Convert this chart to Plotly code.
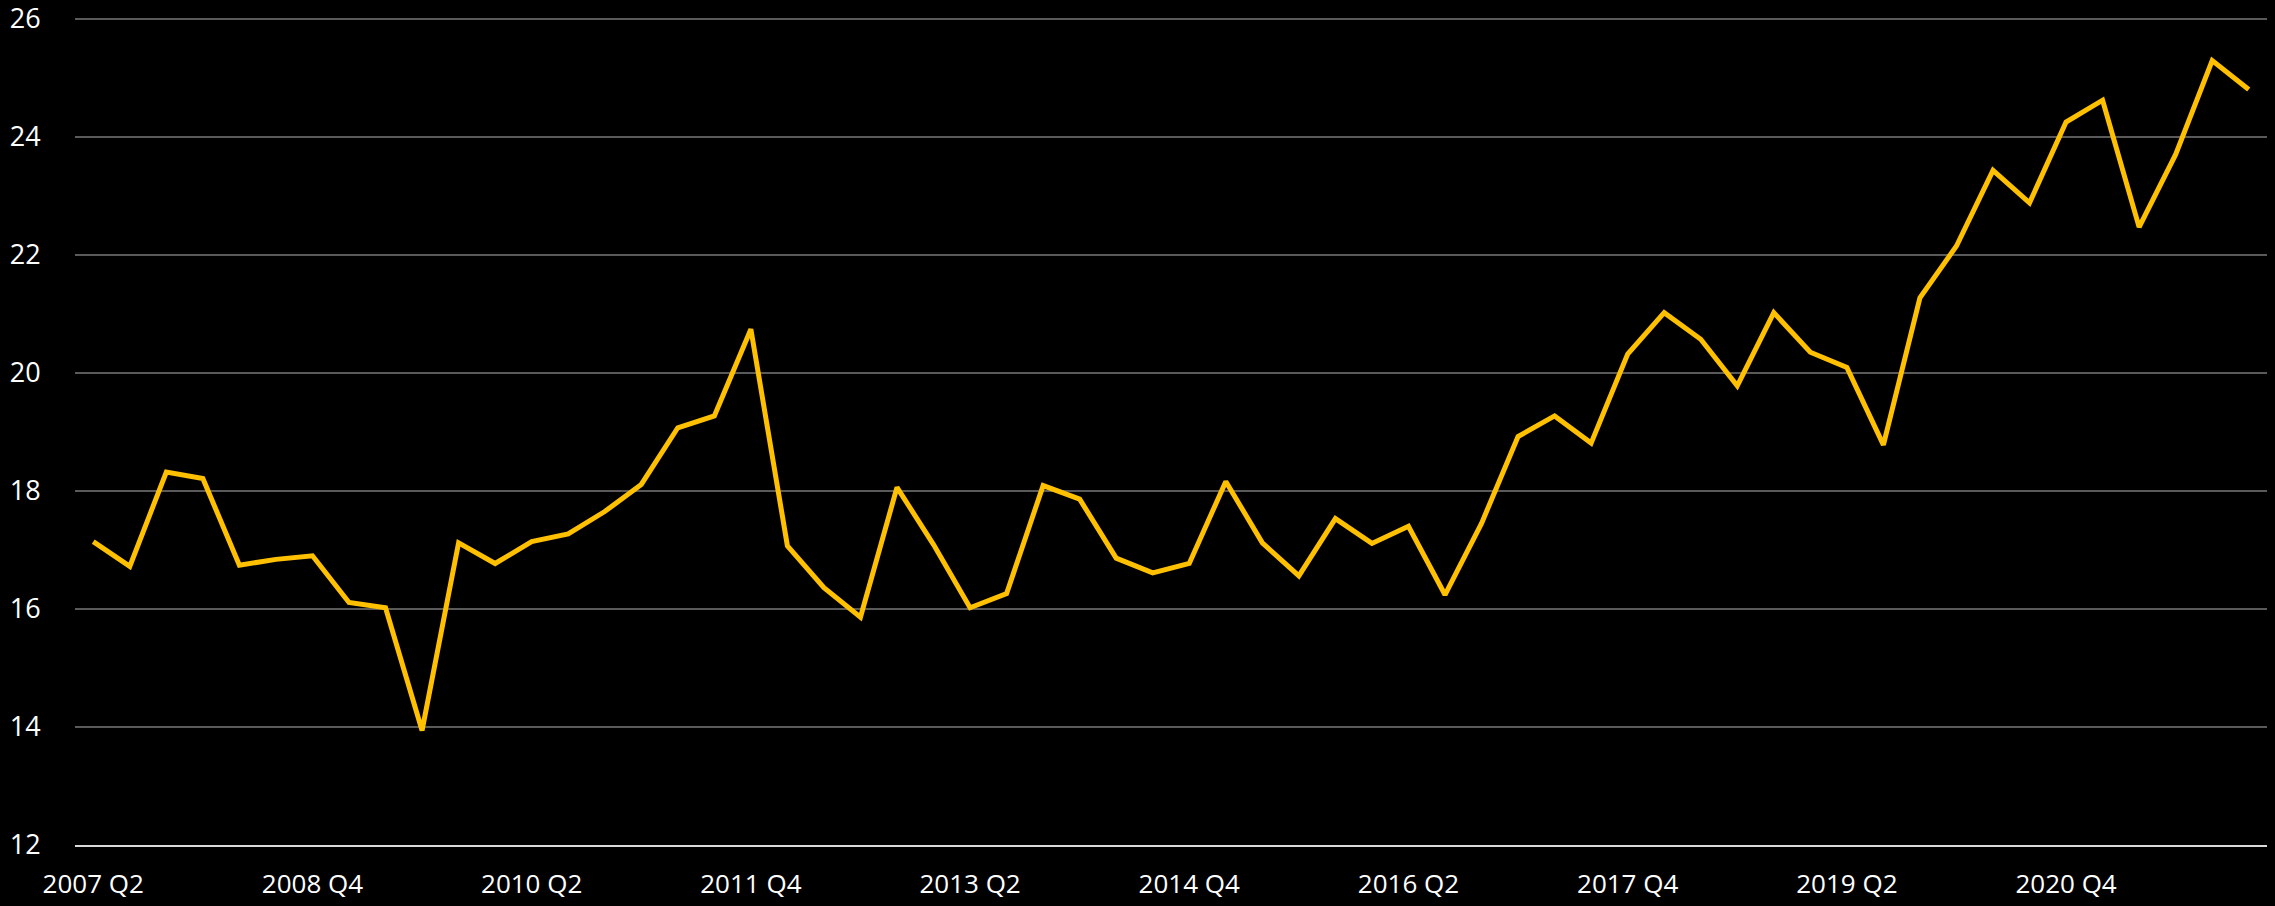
import plotly.graph_objects as go

quarters = []
for yr in range(2007, 2023):
    for q in range(1, 5):
        quarters.append(f"{yr} Q{q}")
categories = quarters[1:61]  # 2007 Q2 .. 2022 Q1

values = [
    17.14, 16.72, 18.32, 18.21, 16.74, 16.84, 16.90, 16.11, 16.02, 13.94,
    17.12, 16.77, 17.14, 17.27, 17.65, 18.11, 19.07, 19.27, 20.74, 17.07,
    16.36, 15.86, 18.06, 17.09, 16.02, 16.26, 18.09, 17.86, 16.86, 16.61,
    16.77, 18.16, 17.12, 16.56, 17.53, 17.11, 17.40, 16.24, 17.45, 18.92,
    19.27, 18.81, 20.32, 21.02, 20.57, 19.78, 21.02, 20.35, 20.09, 18.78,
    21.27, 22.15, 23.43, 22.88, 24.25, 24.62, 22.47, 23.70, 25.29, 24.80,
]

tick_labels = categories[::6]
y_ticks = [12, 14, 16, 18, 20, 22, 24, 26]

fig = go.Figure()
fig.add_trace(go.Scatter(
    x=categories, y=values, mode="lines",
    line=dict(color="#FFC000", width=5),
    showlegend=False, cliponaxis=False,
))

font = dict(family="Open Sans", size=27, color="#FFFFFF")
xfont = dict(family="Open Sans", size=26, color="#FFFFFF")
fig.update_layout(
    width=2275, height=906,
    paper_bgcolor="#000000", plot_bgcolor="#000000",
    margin=dict(l=75, r=8, t=4, b=61),
    font=font,
)
fig.update_xaxes(
    type="category", categoryorder="array", categoryarray=categories,
    range=[-0.5, len(categories) - 0.5],
    tickmode="array", tickvals=tick_labels, ticktext=tick_labels,
    showgrid=False, zeroline=False,
    showline=True, linecolor="#D9D9D9", linewidth=2,
    ticks="outside", ticklen=15, tickcolor="rgba(0,0,0,0)",
    tickfont=xfont, automargin=False, ticklabeloverflow="allow",
)
fig.update_yaxes(
    range=[12, 26.25], tickmode="array", tickvals=y_ticks,
    showgrid=True, gridcolor="#5A5A5A", gridwidth=2,
    zeroline=False, showline=False,
    ticks="outside", ticklen=28, tickcolor="rgba(0,0,0,0)",
    tickfont=font, automargin=False, ticklabeloverflow="allow",
)

fig.write_html(
    "out.html",
    config={"displayModeBar": False},
    post_script="document.body.style.margin='0';document.body.style.overflow='hidden';",
)
